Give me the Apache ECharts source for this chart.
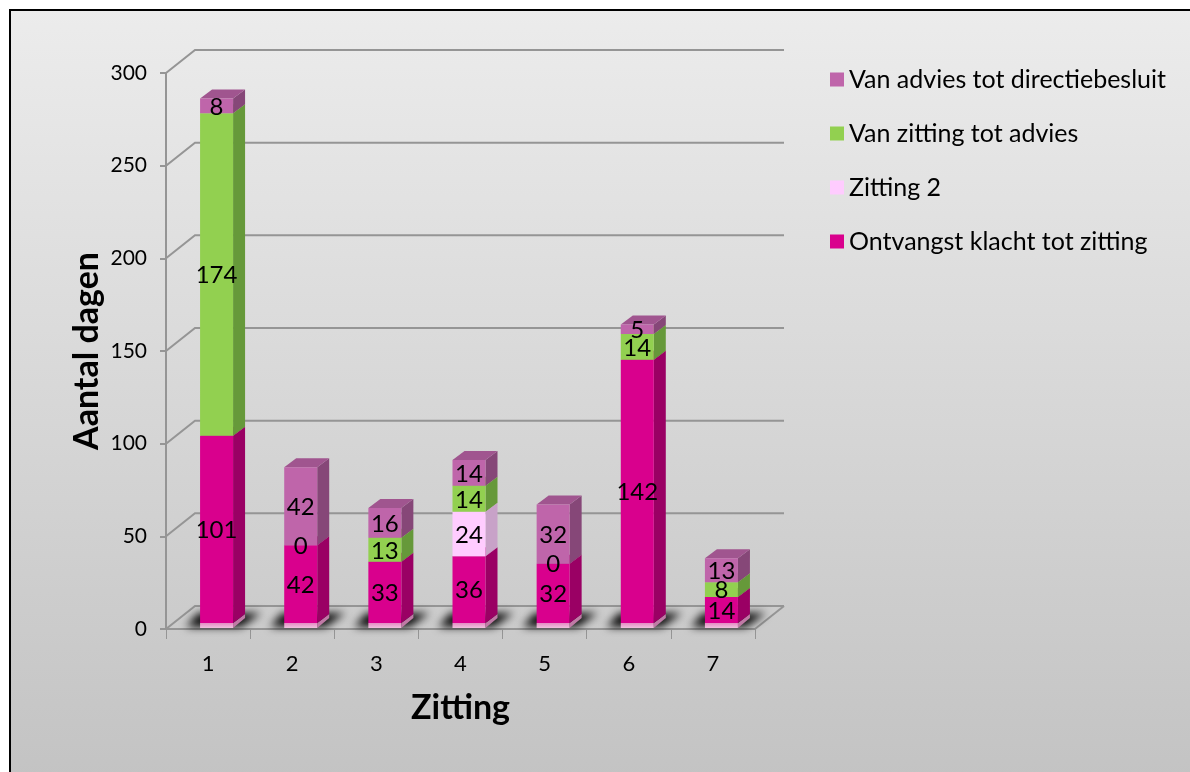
<!DOCTYPE html>
<html>
<head>
<meta charset="utf-8">
<script src="https://cdn.jsdelivr.net/npm/echarts@6/dist/echarts.min.js"></script>
<style>
  html, body { margin: 0; padding: 0; background: #ffffff; }
  #chart { width: 1190px; height: 772px; }
</style>
</head>
<body>
<div id="chart"></div>
<script>
// ---- data ----
const categories = ['1', '2', '3', '4', '5', '6', '7'];
const ontvangstKlacht = [101, 42, 33, 36, 32, 142, 14];
const zitting2 = [null, null, null, 24, null, null, null];
const zittingAdvies = [174, 0, 13, 14, 0, 14, 8];
const adviesBesluit = [8, 42, 16, 14, 32, 5, 13];
const yTicks = [0, 50, 100, 150, 200, 250, 300];

const legendOrder = [
  'Van advies tot directiebesluit',
  'Van zitting tot advies',
  'Zitting 2',
  'Ontvangst klacht tot zitting'
];

// ---- pseudo-3D geometry (pixels) ----
const DEPTH_X = 29, DEPTH_Y = 23;      // wall / floor depth
const BAR_SHIFT_X = -8;                // front face left edge relative to category centre
const BAR_LIFT = 6;                    // bars stand a little behind the front floor edge
const FRONT_W = 33;                    // front face width
const SIDE_X = 12, SIDE_Y = 9;         // bar depth

const FONT = 'Lato, "Noto Sans", sans-serif';

// stack order: bottom first
const stackDefs = [
  { name: 'Ontvangst klacht tot zitting', values: ontvangstKlacht, front: '#D9008D', side: '#9A0064', top: '#B5007A' },
  { name: 'Zitting 2', values: zitting2, front: '#FFCCFF', side: '#C8A2C8', top: '#E6B8E6' },
  { name: 'Van zitting tot advies', values: zittingAdvies, front: '#92D050', side: '#66993A', top: '#7CB545' },
  { name: 'Van advies tot directiebesluit', values: adviesBesluit, front: '#BF65AA', side: '#864778', top: '#A0558F' }
];

// running stack bases
const running = categories.map(() => 0);
const stacked = stackDefs.map(def => {
  const items = [];
  def.values.forEach((v, i) => {
    if (v == null) return;
    items.push([i, running[i], running[i] + v, v]);
    running[i] += v;
  });
  return Object.assign({}, def, { items });
});

function barBox(api, i, lo, hi) {
  const pb = api.coord([i, lo]);
  const pt = api.coord([i, hi]);
  return { xL: pb[0] + BAR_SHIFT_X, yB: pb[1] - BAR_LIFT, yT: pt[1] - BAR_LIFT };
}

// back walls and floor outline
const wallSeries = {
  type: 'custom',
  name: 'walls',
  silent: true,
  z: 1,
  data: [[0]],
  renderItem: function (params, api) {
    const cs = params.coordSys;
    const x0 = cs.x, x1 = cs.x + cs.width;
    const children = [];
    const lineStyle = { stroke: '#959595', lineWidth: 2, fill: null };
    yTicks.forEach(v => {
      const y = api.coord([0, v])[1];
      children.push({
        type: 'polyline',
        shape: { points: [[x0, y], [x0 + DEPTH_X, y - DEPTH_Y], [x1 + DEPTH_X, y - DEPTH_Y]] },
        style: lineStyle
      });
    });
    const y0 = api.coord([0, 0])[1];
    children.push({
      type: 'line',
      shape: { x1: x1, y1: y0, x2: x1 + DEPTH_X, y2: y0 - DEPTH_Y },
      style: lineStyle
    });
    return { type: 'group', children };
  }
};

// soft floor shadows and reflections under each bar
const SHADOW_SHIFT = 3000;
const floorSeries = {
  type: 'custom',
  name: 'floor',
  silent: true,
  z: 2,
  data: categories.map((c, i) => [i, running[i]]),
  renderItem: function (params, api) {
    const i = api.value(0);
    const b = barBox(api, i, 0, 0);
    const xR = b.xL + FRONT_W;
    return {
      type: 'group',
      children: [
        {
          // drawn off-canvas; only its blurred shadow lands on the floor
          type: 'polygon',
          shape: { points: [
            [b.xL - 14 - SHADOW_SHIFT, b.yB + 4], [xR + 8 - SHADOW_SHIFT, b.yB + 4],
            [xR + SIDE_X + 16 - SHADOW_SHIFT, b.yB - SIDE_Y - 1], [b.xL - 2 - SHADOW_SHIFT, b.yB - SIDE_Y - 1]
          ] },
          style: {
            fill: '#000000',
            shadowBlur: 9,
            shadowColor: 'rgba(0,0,0,0.95)',
            shadowOffsetX: SHADOW_SHIFT,
            shadowOffsetY: 0
          }
        },
        {
          type: 'rect',
          shape: { x: b.xL, y: b.yB, width: FRONT_W, height: 5 },
          style: { fill: new echarts.graphic.LinearGradient(0, 0, 0, 1, [
            { offset: 0, color: '#E48CC3' }, { offset: 1, color: '#EFC3DE' }
          ]) }
        },
        {
          type: 'polygon',
          shape: { points: [
            [xR, b.yB], [xR + SIDE_X, b.yB - SIDE_Y],
            [xR + SIDE_X, b.yB - SIDE_Y + 4], [xR, b.yB + 5]
          ] },
          style: { fill: '#C07AA6' }
        }
      ]
    };
  }
};

function makeBarSeries(def, idx) {
  return {
    type: 'custom',
    name: def.name,
    z: 3 + idx * 0.01,
    itemStyle: { color: def.front },
    data: def.items,
    renderItem: function (params, api) {
      const i = api.value(0), lo = api.value(1), hi = api.value(2);
      if (hi - lo <= 0) return null;
      const b = barBox(api, i, lo, hi);
      const xR = b.xL + FRONT_W;
      return {
        type: 'group',
        children: [
          {
            type: 'polygon',
            shape: { points: [[xR, b.yB], [xR + SIDE_X, b.yB - SIDE_Y], [xR + SIDE_X, b.yT - SIDE_Y], [xR, b.yT]] },
            style: { fill: def.side }
          },
          {
            type: 'polygon',
            shape: { points: [[b.xL, b.yT], [b.xL + SIDE_X, b.yT - SIDE_Y], [xR + SIDE_X, b.yT - SIDE_Y], [xR, b.yT]] },
            style: { fill: def.top }
          },
          {
            type: 'rect',
            shape: { x: b.xL, y: b.yT, width: FRONT_W, height: b.yB - b.yT },
            style: { fill: def.front }
          }
        ]
      };
    }
  };
}

function makeLabelSeries(def) {
  return {
    type: 'custom',
    name: 'label ' + def.name,
    z: 10,
    silent: true,
    data: def.items,
    renderItem: function (params, api) {
      const i = api.value(0), lo = api.value(1), hi = api.value(2), v = api.value(3);
      const b = barBox(api, i, lo, hi);
      return {
        type: 'text',
        style: {
          text: String(v),
          x: b.xL + FRONT_W / 2,
          y: (b.yB + b.yT) / 2 + 1,
          align: 'center',
          verticalAlign: 'middle',
          fill: '#000000',
          font: '24px ' + FONT
        }
      };
    }
  };
}

const chart = echarts.init(document.getElementById('chart'), null, { renderer: 'canvas' });

chart.setOption({
  animation: false,
  backgroundColor: '#ffffff',
  textStyle: { fontFamily: FONT },
  graphic: [{
    type: 'rect',
    z: -100,
    silent: true,
    shape: { x: 10, y: 10, width: 1300, height: 900 },
    style: {
      fill: new echarts.graphic.LinearGradient(0, 0, 0, 1, [
        { offset: 0, color: '#ececec' },
        { offset: 1, color: '#bcbcbc' }
      ]),
      stroke: '#000000',
      lineWidth: 2
    }
  }],
  legend: {
    orient: 'vertical',
    left: 825,
    top: 62,
    icon: 'rect',
    itemWidth: 14,
    itemHeight: 14,
    itemGap: 29,
    data: legendOrder,
    textStyle: { fontFamily: FONT, fontSize: 25, color: '#000000' }
  },
  grid: { left: 166, right: 435, top: 73, bottom: 143 },
  xAxis: {
    type: 'category',
    data: categories,
    name: 'Zitting',
    nameLocation: 'middle',
    nameGap: 62,
    nameTextStyle: { fontFamily: FONT, fontSize: 34, fontWeight: 'bold', color: '#000000' },
    axisLine: { show: true, lineStyle: { color: '#959595', width: 2 } },
    axisTick: { show: true, length: 10, lineStyle: { color: '#959595', width: 1 } },
    axisLabel: { margin: 24, fontSize: 22, color: '#000000', fontFamily: FONT },
    splitLine: { show: false }
  },
  yAxis: {
    type: 'value',
    min: yTicks[0],
    max: yTicks[yTicks.length - 1],
    interval: yTicks[1] - yTicks[0],
    name: 'Aantal dagen',
    nameLocation: 'middle',
    nameGap: 62,
    nameTextStyle: { fontFamily: FONT, fontSize: 34, fontWeight: 'bold', color: '#000000' },
    axisLine: { show: true, lineStyle: { color: '#959595', width: 2 } },
    axisTick: { show: true, length: 6, lineStyle: { color: '#959595', width: 2 } },
    axisLabel: { margin: 19, fontSize: 21, color: '#000000', fontFamily: FONT },
    splitLine: { show: false }
  },
  series: [wallSeries, floorSeries]
    .concat(stacked.map(makeBarSeries))
    .concat(stacked.map(makeLabelSeries))
});
</script>
</body>
</html>
